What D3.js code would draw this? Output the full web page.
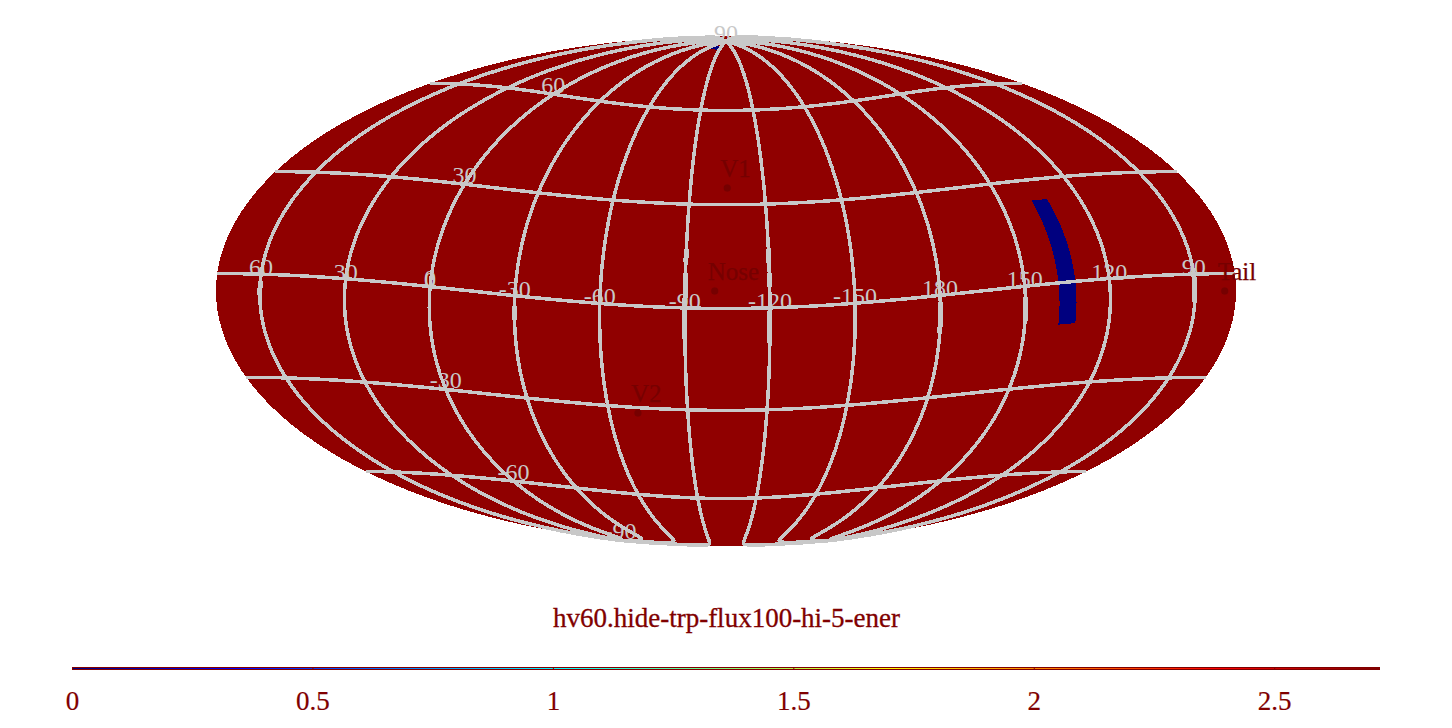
<!DOCTYPE html>
<html><head><meta charset="utf-8">
<script src="https://cdnjs.cloudflare.com/ajax/libs/d3/7.8.5/d3.min.js"></script>
<style>html,body{margin:0;padding:0;background:#fff;overflow:hidden}svg{display:block}text{font-family:"Liberation Serif",serif}</style>
</head><body><svg id="c" width="1452" height="728"></svg>
<script>
const title = "hv60.hide-trp-flux100-hi-5-ener";
const meridians = [-150,-120,-90,-60,-30,0,30,60,90,120,150,180];
const parallels = [-60,-30,0,30,60];
const latLabels = [90,60,30,0,-30,-60,-90];
const lonLabels = [60,30,0,-30,-60,-90,-120,-150,180,150,120,90];
const landmarkNames = ["V1","Nose","V2","Tail"];
const landmarkLon = [-105,-100.5,-71,79.5];
const landmarkLat = [35,5,-31.7,-5];
const cells = [[132,138,-12,24],[-85,-70,85,87]];
const thickLon = [60,-30,-90,-90,-120,-120,-120,180,150,90];
const thickFrom = [-2,-3,17,10,17,10,-1,-2,-3,0];
const thickTo = [-6,-7,13,-9,13,6,-10,-11,-10,-8];
const cbStops = [0,0.34,0.68,1.02,1.36,1.7,2.04,2.38,2.72];
const cbColors = ["#00007f","#0000ff","#007fff","#00ffff","#7fff7f","#ffff00","#ff7f00","#ff0000","#7f0000"];
const cbTicks = [0,0.5,1,1.5,2,2.5];
const ocean = "#900000", grid = "#c8c8c8", ink = "#800000", landmarkInk = "#760000", cellColor = "#00007f";

function mollweideRaw(l, p){
  let t = p; const k = Math.PI*Math.sin(p);
  if (Math.abs(Math.abs(p)-Math.PI/2) >= 1e-9){
    for (let i=0;i<40;i++){ const d=(t+Math.sin(t)-k)/(1+Math.cos(t)); t-=d; if(Math.abs(d)<1e-9)break; }
    t/=2;
  }
  return [Math.SQRT2*2/Math.PI*l*Math.cos(t), Math.SQRT2*Math.sin(t)];
}
const svg = d3.select("#c");
const proj = d3.geoProjection(mollweideRaw)
  .rotate([104.5,-5,0]).reflectX(true).precision(0.3)
  .scale(510/(2*Math.SQRT2)).translate([726,291]);
const path = d3.geoPath(proj);
svg.append("path").datum({type:"Sphere"}).attr("d",path).attr("fill",ocean).attr("shape-rendering","crispEdges");

function line(coords){ return {type:"LineString",coordinates:coords}; }
function dense(a,b,f){ const o=[]; for(let i=a;i<=b;i+=2)o.push(f(i)); return o; }
const cellG = svg.append("g");
cells.forEach(c=>{
  const r=[];
  dense(c[2],c[3],v=>r.push([c[0],v]));
  dense(c[0],c[1],v=>r.push([v,c[3]]));
  dense(c[2],c[3],v=>r.push([c[1],c[3]+c[2]-v]));
  dense(c[0],c[1],v=>r.push([c[1]+c[0]-v,c[2]]));
  r.push(r[0]);
  cellG.append("path").datum({type:"Polygon",coordinates:[r]}).attr("d",path).attr("fill",cellColor).attr("shape-rendering","crispEdges");
});
const gridG = svg.append("g").attr("fill","none").attr("stroke",grid).attr("stroke-width",3.5).attr("shape-rendering","crispEdges");
meridians.forEach(m=>gridG.append("path").datum(line(dense(-90,90,v=>[m,v]))).attr("d",path));
parallels.forEach(p=>gridG.append("path").datum(line(dense(-180,180,v=>[v,p]))).attr("d",path));
thickLon.forEach((m,i)=>gridG.append("path").datum(line([[m,thickFrom[i]],[m,thickTo[i]]])).attr("d",path).attr("stroke-width",5));

const lab = svg.append("g").attr("font-size",24).attr("fill",grid).attr("text-anchor","middle");
lonLabels.forEach(v=>{ const q=proj([v,0]); lab.append("text").attr("x",q[0]).attr("y",q[1]+1).text(v); });
latLabels.forEach(v=>{ const q=proj([0,v]); lab.append("text").attr("x",q[0]).attr("y",q[1]-1).text(v); });

const lm = svg.append("g").attr("font-size",25).attr("fill",landmarkInk).attr("stroke",landmarkInk).attr("stroke-width",0.25).attr("text-anchor","start");
landmarkNames.forEach((n,i)=>{ const q=proj([landmarkLon[i],landmarkLat[i]]);
  lm.append("circle").attr("cx",q[0]).attr("cy",q[1]).attr("r",3.5);
  lm.append("text").attr("x",q[0]-7).attr("y",q[1]-11).text(n);
});
svg.append("text").attr("x",726.5).attr("y",627).attr("text-anchor","middle").attr("font-size",27).attr("fill",ink).attr("stroke",ink).attr("stroke-width",0.3).text(title);

const x = d3.scaleLinear().domain([0,2.72]).range([72,1380]);
const barG = svg.append("g");
const grad = svg.append("defs").append("linearGradient").attr("id","jet");
cbStops.forEach((s,i)=>grad.append("stop").attr("offset",s/2.72).attr("stop-color",cbColors[i]));
barG.append("rect").attr("x",x(0)).attr("y",667).attr("width",x(2.72)-x(0)).attr("height",3).attr("fill",ink);
barG.append("rect").attr("x",x(0)).attr("y",668).attr("width",x(2.72)-x(0)).attr("height",1).attr("fill","url(#jet)");
const ax = d3.axisBottom(x).tickValues(cbTicks).tickSize(3).tickFormat(d=>String(d));
const axG = svg.append("g").attr("transform","translate(0,667)").call(ax);
axG.select(".domain").remove();
axG.selectAll("line").attr("stroke",ink);
axG.selectAll("text").attr("y",43).attr("dy",0).attr("font-size",27).attr("fill",ink).attr("stroke",ink).attr("stroke-width",0.2).style("font-family",'"Liberation Serif",serif');
</script></body></html>
